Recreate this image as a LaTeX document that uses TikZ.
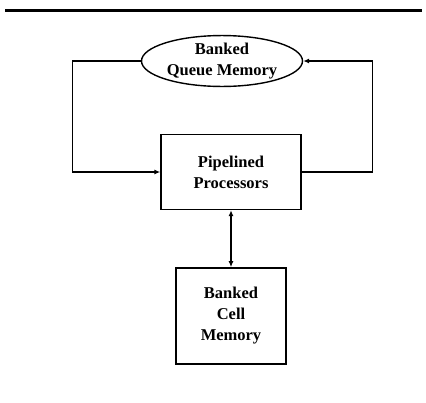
\documentclass[tikz,border=0pt]{standalone}
\usepackage{fontspec}
\setmainfont{Liberation Serif}
\usetikzlibrary{arrows.meta,positioning,shapes.geometric}

\tikzset{
  unitbox/.style={draw,line width=1.4pt,align=center,inner sep=0pt,
    font=\fontsize{16.5}{21}\selectfont\bfseries},
  memoval/.style={unitbox,ellipse,minimum width=161pt,minimum height=47pt},
  link/.style={line width=1.2pt,-{Latex[length=6pt,width=5pt]}},
  duallink/.style={line width=1.2pt,{Latex[length=6pt,width=5pt]}-{Latex[length=6pt,width=5pt]}}
}

\begin{document}
\begin{tikzpicture}[x=1pt,y=1pt]
    \useasboundingbox (0,0) rectangle (426,-402);
    \draw[line width=3pt] (5,-10)--(422,-10);
    \node[memoval] (queue) at (222,-61) {Banked\\Queue Memory};
    \node[unitbox,minimum width=140pt,minimum height=75pt] (proc) at (231,-172)
      {Pipelined\\Processors};
    \node[unitbox,minimum width=110pt,minimum height=96pt,below=57pt of proc] (cell)
      {Banked\\Cell\\Memory};
    % loop through the queue memory
    \draw[link] (queue.west) -- ++(-68,0) |- (proc.west);
    \draw[link] (proc.east) -- ++(71,0) |- (queue.east);
    \draw[duallink] (proc.south) -- (cell.north);
  \end{tikzpicture}
\end{document}
